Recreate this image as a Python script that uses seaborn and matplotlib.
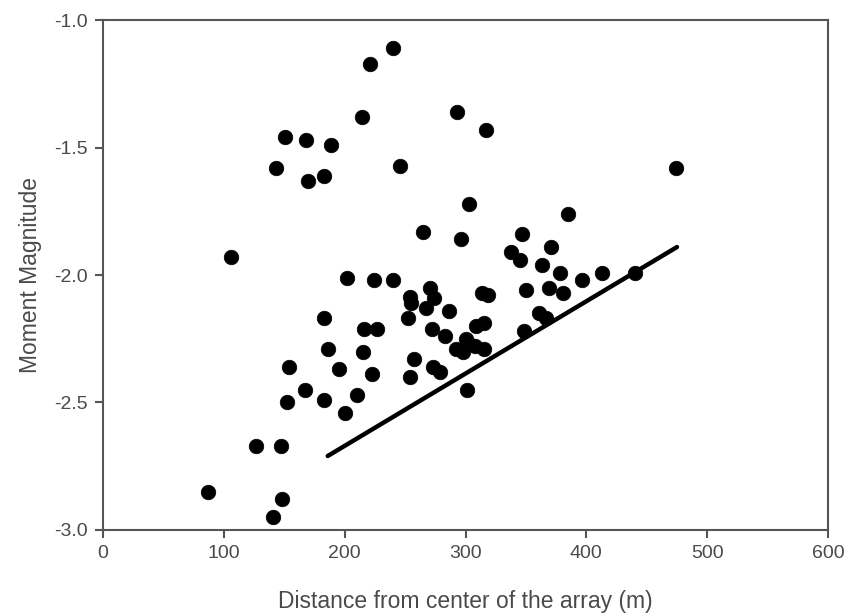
#!/usr/bin/python

# Import Modules
import numpy as np
import pandas as pd
import matplotlib
matplotlib.use("Agg")
import matplotlib.pyplot as plt
import seaborn as sns

# Event data
distance = [87, 106, 127, 147, 143, 151, 168, 170, 183, 189,
            214, 221, 240, 246, 293, 317, 303, 385, 474, 265,
            296, 347, 371, 338, 345, 363, 378, 396, 413, 440,
            202, 224, 240, 271, 274, 254, 255, 267, 286, 314,
            319, 350, 369, 381, 183, 252, 216, 227, 272, 309,
            315, 283, 300, 303, 308, 292, 298, 315, 361, 367,
            348, 186, 215, 257, 154, 195, 223, 254, 273, 279,
            301, 167, 152, 183, 210, 200, 148, 141]
magnitude = [-2.85, -1.93, -2.67, -2.67, -1.58, -1.46, -1.47, -1.63, -1.61, -1.49,
             -1.38, -1.17, -1.11, -1.57, -1.36, -1.43, -1.72, -1.76, -1.58, -1.83,
             -1.86, -1.84, -1.89, -1.91, -1.94, -1.96, -1.99, -2.02, -1.99, -1.99,
             -2.01, -2.02, -2.02, -2.05, -2.09, -2.085, -2.11, -2.13, -2.14, -2.07,
             -2.08, -2.06, -2.05, -2.07, -2.17, -2.17, -2.21, -2.21, -2.21, -2.20,
             -2.19, -2.24, -2.25, -2.27, -2.28, -2.29, -2.30, -2.29, -2.15, -2.17,
             -2.22, -2.29, -2.30, -2.33, -2.36, -2.37, -2.39, -2.40, -2.36, -2.38,
             -2.45, -2.45, -2.50, -2.49, -2.47, -2.54, -2.88, -2.95]

# Detection threshold line
line_x = [186, 475]
line_y = [-2.71, -1.89]

x_ticks = [0, 100, 200, 300, 400, 500, 600]
y_ticks = [-3.0, -2.5, -2.0, -1.5, -1.0]

df = pd.DataFrame({"distance": distance, "magnitude": magnitude})
line_df = pd.DataFrame({"x": line_x, "y": line_y})

sns.set_style("white")
plt.rcParams["font.family"] = ["Liberation Sans", "DejaVu Sans"]
plt.rcParams["axes.unicode_minus"] = False

text_color = "#4a4a4a"
fig = plt.figure(figsize=(8.47, 6.14), dpi=100)
ax = fig.add_axes([0.1216, 0.137, 0.856, 0.830])

sns.scatterplot(data=df, x="distance", y="magnitude", ax=ax,
                color="black", s=110, edgecolor="black", linewidth=0.5, zorder=3)
sns.lineplot(data=line_df, x="x", y="y", ax=ax, color="black", linewidth=3.2, zorder=2)

ax.set_xlim(0, 600)
ax.set_ylim(-3.0, -1.0)
ax.set_xticks(x_ticks)
ax.set_yticks(y_ticks)
ax.set_xticklabels([str(t) for t in x_ticks])
ax.set_yticklabels(["%.1f" % t for t in y_ticks])

for sp in ax.spines.values():
    sp.set_color("#555555")
    sp.set_linewidth(1.5)
ax.tick_params(axis="both", direction="out", length=6, width=1.5,
               color="#555555", labelcolor=text_color, labelsize=14,
               left=True, bottom=True, top=False, right=False, pad=5)

ax.set_xlabel("Distance from center of the array (m)", fontsize=16.5,
              color=text_color, labelpad=20)
ax.set_ylabel("Moment Magnitude", fontsize=16.5, color=text_color, labelpad=9)

plt.savefig("out.png", dpi=100)
